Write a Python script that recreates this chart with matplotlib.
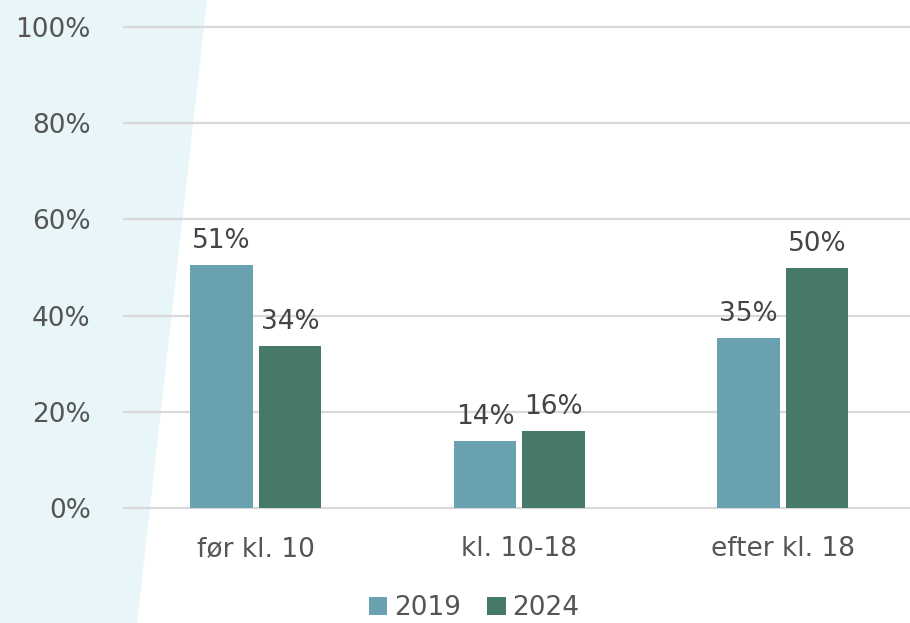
import matplotlib
matplotlib.use("Agg")
import matplotlib.pyplot as plt
from matplotlib.patches import Polygon
import numpy as np

categories = ["før kl. 10", "kl. 10-18", "efter kl. 18"]
series_names = ["2019", "2024"]
values_2019 = [50.5, 13.9, 35.4]
values_2024 = [33.7, 16.0, 49.9]
labels_2019 = ["51%", "14%", "35%"]
labels_2024 = ["34%", "16%", "50%"]
yticks = [0, 20, 40, 60, 80, 100]
ytick_labels = ["0%", "20%", "40%", "60%", "80%", "100%"]

col_2019 = "#6aa1b0"
col_2024 = "#46796a"
text_col = "#555555"
grid_col = "#d9d9d9"

plt.rcParams['font.family'] = ['DejaVu Sans']

fig = plt.figure(figsize=(9.10, 6.23), dpi=100)
# background trapezoid
poly = Polygon([(0, 1), (207/910, 1), (137/910, 0), (0, 0)], closed=True,
               transform=fig.transFigure, facecolor="#e8f5f9", edgecolor="none", zorder=-5)
fig.patches.append(poly)

ax = fig.add_axes([124/910, (623-508)/623, 790.5/910, (508-27)/623])
ax.patch.set_alpha(0)
ax.set_zorder(2)

x = np.arange(len(categories))
w = 0.236
off = 0.13
b1 = ax.bar(x - off, values_2019, width=w, color=col_2019, label=series_names[0], zorder=3)
b2 = ax.bar(x + off, values_2024, width=w, color=col_2024, label=series_names[1], zorder=3)

for bars, labs in ((b1, labels_2019), (b2, labels_2024)):
    for bar, lab in zip(bars, labs):
        ax.annotate(lab, (bar.get_x() + bar.get_width()/2, bar.get_height()),
                    xytext=(0, 8), textcoords="offset points", ha="center", va="bottom",
                    fontsize=19, color="#444444")

ax.set_xlim(-0.5, 2.5)
ax.set_ylim(0, 100)
ax.set_yticks(yticks)
ax.set_yticklabels(ytick_labels)
ax.set_xticks(x)
ax.set_xticklabels(categories)
ax.tick_params(axis="both", length=0, labelsize=19, labelcolor=text_col)
ax.tick_params(axis="y", pad=24)
ax.tick_params(axis="x", pad=20)
ax.grid(axis="y", color=grid_col, linewidth=1.6, zorder=0)
for gl in ax.get_ygridlines():
    gl.set_clip_on(False)
for s in ax.spines.values():
    s.set_visible(False)

leg = fig.legend(loc="lower center", bbox_to_anchor=(474/910, -0.035), ncol=2, frameon=False,
                 fontsize=19, labelcolor=text_col, handlelength=0.7, handleheight=0.7,
                 handletextpad=0.25, columnspacing=1.0)

fig.savefig("out.png", dpi=100)
